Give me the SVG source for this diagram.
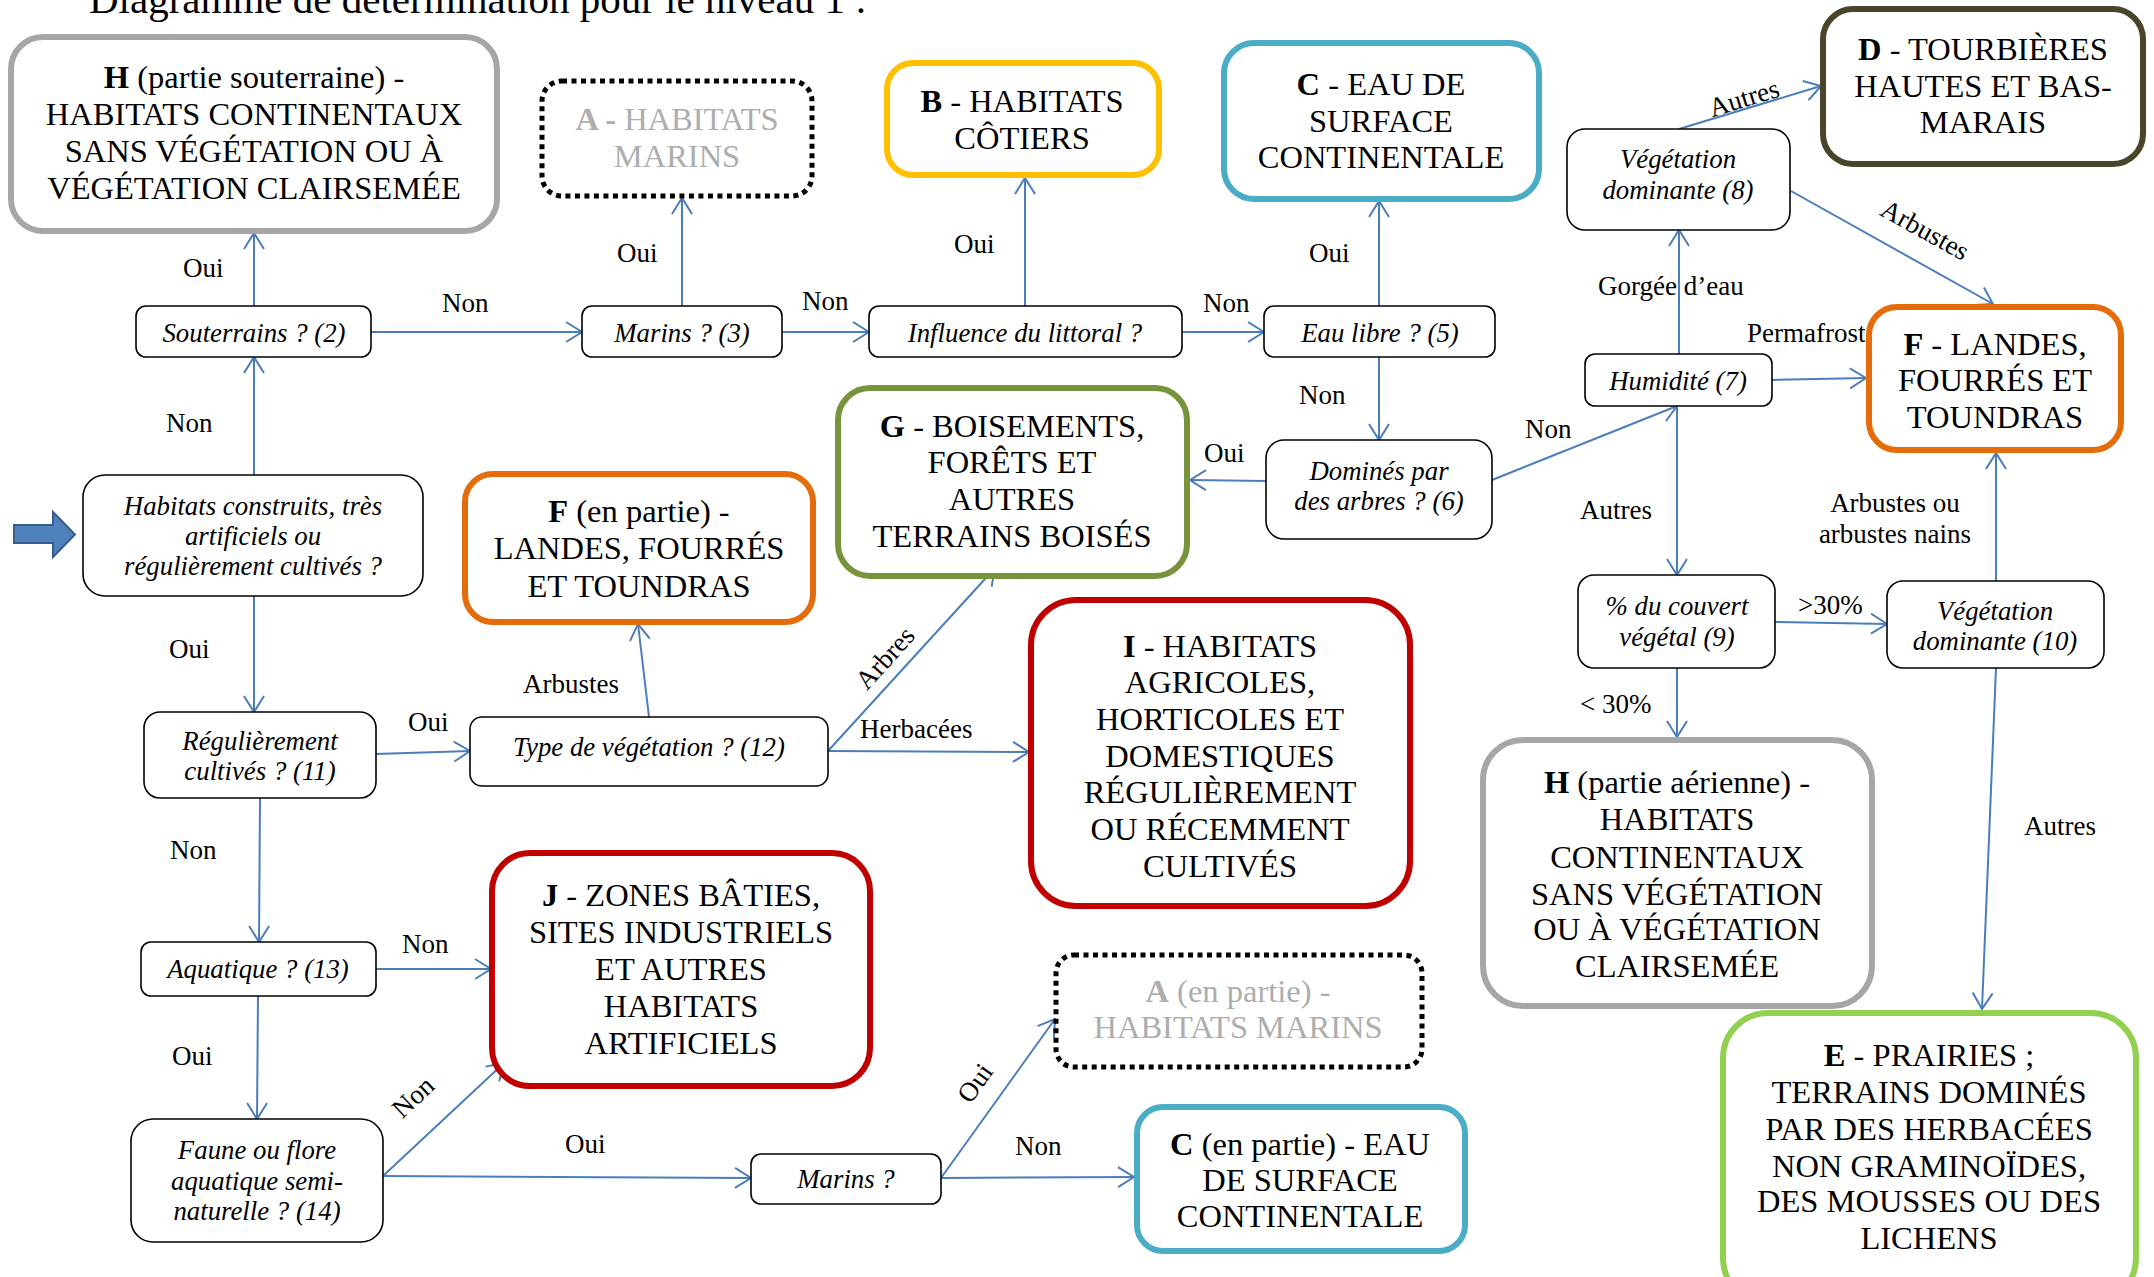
<svg xmlns="http://www.w3.org/2000/svg" width="2154" height="1277" viewBox="0 0 2154 1277">
  <defs>
    <marker id="open-arrow" markerUnits="userSpaceOnUse" markerWidth="20" markerHeight="22" viewBox="0 0 20 22" refX="17" refY="11" orient="auto">
      <path d="M1,1 L17,11 L1,21" fill="none" stroke="#4A7EBB" stroke-width="2"/>
    </marker>
  </defs>
  <style>
    text { font-family: "Liberation Serif", "Times New Roman", serif; fill: #000; }
    .q { fill: #fff; stroke: #000; stroke-width: 1.6; }
    .qt { font-size: 26.8px; font-style: italic; text-anchor: middle; }
    .r { fill: #fff; stroke-width: 6; }
    .rt { font-size: 32.5px; text-anchor: middle; }
    .rt tspan.k { font-weight: bold; }
    .dot { fill: #fff; stroke: #000; stroke-width: 5; stroke-dasharray: 5 4.5; }
    .grey { fill: #ADADAD; }
    .lbl { font-size: 27px; }
    .mid { text-anchor: middle; }
    .edge { fill: none; stroke: #4A7EBB; stroke-width: 2; marker-end: url(#open-arrow); }
  </style>

  <rect width="2154" height="1277" fill="#fff"/>

  <!-- heading -->
  <text x="89" y="13" font-size="41">Diagramme de détermination pour le niveau 1 :</text>

  <!-- start arrow -->
  <polygon points="14,525 53,525 53,512 75,534.5 53,557 53,543 14,543" fill="#4F81BD" stroke="#385D8A" stroke-width="2"/>

  <!-- connectors -->
  <g id="connectors">
    <line class="edge" x1="254" y1="306" x2="254" y2="233"/>
    <line class="edge" x1="371" y1="332" x2="582" y2="332"/>
    <line class="edge" x1="682" y1="306" x2="682" y2="198"/>
    <line class="edge" x1="782" y1="332" x2="869" y2="332"/>
    <line class="edge" x1="1025" y1="306" x2="1025" y2="178"/>
    <line class="edge" x1="1182" y1="332" x2="1264" y2="332"/>
    <line class="edge" x1="1379" y1="306" x2="1379" y2="201"/>
    <line class="edge" x1="1379" y1="357" x2="1379" y2="440"/>
    <line class="edge" x1="1266" y1="481" x2="1190" y2="480"/>
    <line class="edge" x1="1492" y1="480" x2="1677" y2="406"/>
    <line class="edge" x1="1679" y1="354" x2="1679" y2="230"/>
    <line class="edge" x1="1772" y1="380" x2="1866" y2="378"/>
    <line class="edge" x1="1679" y1="129" x2="1821" y2="86"/>
    <line class="edge" x1="1791" y1="191" x2="1993" y2="304"/>
    <line class="edge" x1="1677" y1="406" x2="1677" y2="575"/>
    <line class="edge" x1="1775" y1="622" x2="1887" y2="624"/>
    <line class="edge" x1="1677" y1="668" x2="1677" y2="737"/>
    <line class="edge" x1="1996" y1="581" x2="1996" y2="453"/>
    <line class="edge" x1="1996" y1="668" x2="1982" y2="1009"/>
    <line class="edge" x1="254" y1="475" x2="254" y2="357"/>
    <line class="edge" x1="254" y1="596" x2="254" y2="712"/>
    <line class="edge" x1="376" y1="754" x2="470" y2="751"/>
    <line class="edge" x1="649" y1="717" x2="638" y2="624"/>
    <line class="edge" x1="828" y1="751" x2="995" y2="568"/>
    <line class="edge" x1="828" y1="751" x2="1029" y2="752"/>
    <line class="edge" x1="260" y1="798" x2="259" y2="942"/>
    <line class="edge" x1="376" y1="969" x2="491" y2="969"/>
    <line class="edge" x1="258" y1="996" x2="257" y2="1119"/>
    <line class="edge" x1="383" y1="1176" x2="504" y2="1063"/>
    <line class="edge" x1="383" y1="1176" x2="751" y2="1178"/>
    <line class="edge" x1="941" y1="1178" x2="1055" y2="1019"/>
    <line class="edge" x1="941" y1="1178" x2="1134" y2="1177"/>

    <!-- branch labels -->
    <text class="lbl" x="183" y="277">Oui</text>
    <text class="lbl" x="442" y="312">Non</text>
    <text class="lbl" x="617" y="262">Oui</text>
    <text class="lbl" x="802" y="310">Non</text>
    <text class="lbl" x="954" y="253">Oui</text>
    <text class="lbl" x="1203" y="312">Non</text>
    <text class="lbl" x="1309" y="262">Oui</text>
    <text class="lbl" x="1299" y="404">Non</text>
    <text class="lbl" x="1204" y="462">Oui</text>
    <text class="lbl" x="1525" y="438">Non</text>
    <text class="lbl" x="1598" y="295">Gorgée d’eau</text>
    <text class="lbl" x="1747" y="342">Permafrost</text>
    <text class="lbl mid" x="1744" y="107" transform="rotate(-17 1744 98)">Autres</text>
    <text class="lbl mid" x="1925" y="239" transform="rotate(29 1925 230)">Arbustes</text>
    <text class="lbl" x="1580" y="519">Autres</text>
    <text class="lbl" x="1798" y="614">&gt;30%</text>
    <text class="lbl" x="1580" y="713">&lt; 30%</text>
    <text class="lbl mid" x="1895" y="512">Arbustes ou</text>
    <text class="lbl mid" x="1895" y="543">arbustes nains</text>
    <text class="lbl" x="2024" y="835">Autres</text>
    <text class="lbl" x="166" y="432">Non</text>
    <text class="lbl" x="169" y="658">Oui</text>
    <text class="lbl" x="408" y="731">Oui</text>
    <text class="lbl" x="523" y="693">Arbustes</text>
    <text class="lbl mid" x="885" y="667" transform="rotate(-48 885 658)">Arbres</text>
    <text class="lbl" x="860" y="738">Herbacées</text>
    <text class="lbl" x="170" y="859">Non</text>
    <text class="lbl" x="402" y="953">Non</text>
    <text class="lbl" x="172" y="1065">Oui</text>
    <text class="lbl mid" x="413" y="1106" transform="rotate(-43 413 1097)">Non</text>
    <text class="lbl" x="565" y="1153">Oui</text>
    <text class="lbl mid" x="975" y="1092" transform="rotate(-54.5 975 1083)">Oui</text>
    <text class="lbl" x="1015" y="1155">Non</text>
  </g>

  <!-- question nodes -->
  <g id="q-construits">
    <rect class="q" x="83" y="475" width="340" height="121" rx="22"/>
    <text class="qt" x="253" y="515">Habitats construits, très</text>
    <text class="qt" x="253" y="545">artificiels ou</text>
    <text class="qt" x="253" y="575">régulièrement cultivés ?</text>
  </g>
  <g id="q-souterrains">
    <rect class="q" x="136" y="306" width="235" height="51" rx="10"/>
    <text class="qt" x="254" y="342">Souterrains ? (2)</text>
  </g>
  <g id="q-marins3">
    <rect class="q" x="582" y="306" width="200" height="51" rx="10"/>
    <text class="qt" x="682" y="342">Marins ? (3)</text>
  </g>
  <g id="q-littoral">
    <rect class="q" x="869" y="306" width="313" height="51" rx="10"/>
    <text class="qt" x="1025" y="342">Influence du littoral ?</text>
  </g>
  <g id="q-eau-libre">
    <rect class="q" x="1264" y="306" width="231" height="51" rx="10"/>
    <text class="qt" x="1380" y="342">Eau libre ? (5)</text>
  </g>
  <g id="q-arbres">
    <rect class="q" x="1266" y="440" width="226" height="99" rx="18"/>
    <text class="qt" x="1379" y="480">Dominés par</text>
    <text class="qt" x="1379" y="510">des arbres ? (6)</text>
  </g>
  <g id="q-humidite">
    <rect class="q" x="1585" y="354" width="187" height="52" rx="10"/>
    <text class="qt" x="1678" y="390">Humidité (7)</text>
  </g>
  <g id="q-vegetation8">
    <rect class="q" x="1567" y="129" width="223" height="101" rx="18"/>
    <text class="qt" x="1678" y="168">Végétation</text>
    <text class="qt" x="1678" y="199">dominante (8)</text>
  </g>
  <g id="q-couvert">
    <rect class="q" x="1578" y="575" width="197" height="93" rx="16"/>
    <text class="qt" x="1677" y="615" font-size="27.5">% du couvert</text>
    <text class="qt" x="1677" y="646" font-size="27.5">végétal (9)</text>
  </g>
  <g id="q-vegetation10">
    <rect class="q" x="1887" y="581" width="217" height="87" rx="16"/>
    <text class="qt" x="1995" y="620">Végétation</text>
    <text class="qt" x="1995" y="650">dominante (10)</text>
  </g>
  <g id="q-cultives">
    <rect class="q" x="144" y="712" width="232" height="86" rx="16"/>
    <text class="qt" x="260" y="750">Régulièrement</text>
    <text class="qt" x="260" y="780">cultivés ? (11)</text>
  </g>
  <g id="q-type">
    <rect class="q" x="470" y="717" width="358" height="69" rx="12"/>
    <text class="qt" x="649" y="756">Type de végétation ? (12)</text>
  </g>
  <g id="q-aquatique">
    <rect class="q" x="141" y="942" width="235" height="54" rx="10"/>
    <text class="qt" x="258" y="978">Aquatique ? (13)</text>
  </g>
  <g id="q-faune">
    <rect class="q" x="131" y="1119" width="252" height="123" rx="22"/>
    <text class="qt" x="257" y="1159">Faune ou flore</text>
    <text class="qt" x="257" y="1190">aquatique semi-</text>
    <text class="qt" x="257" y="1220">naturelle ? (14)</text>
  </g>
  <g id="q-marins">
    <rect class="q" x="751" y="1154" width="190" height="50" rx="10"/>
    <text class="qt" x="846" y="1188">Marins ?</text>
  </g>

  <!-- habitat classes -->
  <g id="r-H-souterraine">
    <rect class="r" x="11" y="37" width="486" height="194" rx="32" stroke="#A6A6A6"/>
    <text class="rt" x="254" y="88"><tspan class="k">H</tspan> (partie souterraine) -</text>
    <text class="rt" x="254" y="125">HABITATS CONTINENTAUX</text>
    <text class="rt" x="254" y="162">SANS VÉGÉTATION OU À</text>
    <text class="rt" x="254" y="199">VÉGÉTATION CLAIRSEMÉE</text>
  </g>
  <g id="r-A">
    <rect class="dot" x="542" y="81" width="270" height="115" rx="20"/>
    <text class="rt grey" x="677" y="130"><tspan class="k">A -</tspan> HABITATS</text>
    <text class="rt grey" x="677" y="167">MARINS</text>
  </g>
  <g id="r-B">
    <rect class="r" x="887" y="63" width="272" height="112" rx="26" stroke="#FFC000"/>
    <text class="rt" x="1022" y="112"><tspan class="k">B</tspan> - HABITATS</text>
    <text class="rt" x="1022" y="149">CÔTIERS</text>
  </g>
  <g id="r-C">
    <rect class="r" x="1224" y="43" width="315" height="156" rx="30" stroke="#4BACC6"/>
    <text class="rt" x="1381" y="95"><tspan class="k">C</tspan> - EAU DE</text>
    <text class="rt" x="1381" y="132">SURFACE</text>
    <text class="rt" x="1381" y="168">CONTINENTALE</text>
  </g>
  <g id="r-D">
    <rect class="r" x="1823" y="9" width="320" height="155" rx="30" stroke="#4A452A"/>
    <text class="rt" x="1983" y="60"><tspan class="k">D</tspan> - TOURBIÈRES</text>
    <text class="rt" x="1983" y="97">HAUTES ET BAS-</text>
    <text class="rt" x="1983" y="133">MARAIS</text>
  </g>
  <g id="r-F">
    <rect class="r" x="1869" y="307" width="252" height="143" rx="28" stroke="#E46C0A"/>
    <text class="rt" x="1995" y="355"><tspan class="k">F</tspan> - LANDES,</text>
    <text class="rt" x="1995" y="391">FOURRÉS ET</text>
    <text class="rt" x="1995" y="428">TOUNDRAS</text>
  </g>
  <g id="r-G">
    <rect class="r" x="838" y="388" width="349" height="188" rx="32" stroke="#77933C"/>
    <text class="rt" x="1012" y="437"><tspan class="k">G</tspan> - BOISEMENTS,</text>
    <text class="rt" x="1012" y="473">FORÊTS ET</text>
    <text class="rt" x="1012" y="510">AUTRES</text>
    <text class="rt" x="1012" y="547">TERRAINS BOISÉS</text>
  </g>
  <g id="r-F-partie">
    <rect class="r" x="465" y="474" width="348" height="148" rx="28" stroke="#E46C0A"/>
    <text class="rt" x="639" y="522"><tspan class="k">F</tspan> (en partie) -</text>
    <text class="rt" x="639" y="559">LANDES, FOURRÉS</text>
    <text class="rt" x="639" y="597">ET TOUNDRAS</text>
  </g>
  <g id="r-I">
    <rect class="r" x="1031" y="600" width="379" height="306" rx="45" stroke="#C00000" stroke-width="7"/>
    <text class="rt" x="1220" y="657"><tspan class="k">I</tspan> - HABITATS</text>
    <text class="rt" x="1220" y="693">AGRICOLES,</text>
    <text class="rt" x="1220" y="730">HORTICOLES ET</text>
    <text class="rt" x="1220" y="767">DOMESTIQUES</text>
    <text class="rt" x="1220" y="803">RÉGULIÈREMENT</text>
    <text class="rt" x="1220" y="840">OU RÉCEMMENT</text>
    <text class="rt" x="1220" y="877">CULTIVÉS</text>
  </g>
  <g id="r-J">
    <rect class="r" x="492" y="853" width="378" height="233" rx="38" stroke="#C00000" stroke-width="7"/>
    <text class="rt" x="681" y="906"><tspan class="k">J</tspan> - ZONES BÂTIES,</text>
    <text class="rt" x="681" y="943">SITES INDUSTRIELS</text>
    <text class="rt" x="681" y="980">ET AUTRES</text>
    <text class="rt" x="681" y="1017">HABITATS</text>
    <text class="rt" x="681" y="1054">ARTIFICIELS</text>
  </g>
  <g id="r-A-partie">
    <rect class="dot" x="1056" y="955" width="366" height="112" rx="18"/>
    <text class="rt grey" x="1238" y="1002"><tspan class="k">A</tspan> (en partie) -</text>
    <text class="rt grey" x="1238" y="1038">HABITATS MARINS</text>
  </g>
  <g id="r-C-partie">
    <rect class="r" x="1137" y="1107" width="328" height="144" rx="26" stroke="#4BACC6"/>
    <text class="rt" x="1300" y="1155"><tspan class="k">C</tspan> (en partie) - EAU</text>
    <text class="rt" x="1300" y="1191">DE SURFACE</text>
    <text class="rt" x="1300" y="1227">CONTINENTALE</text>
  </g>
  <g id="r-H-aerienne">
    <rect class="r" x="1483" y="740" width="389" height="266" rx="40" stroke="#A6A6A6"/>
    <text class="rt" x="1677" y="793"><tspan class="k">H</tspan> (partie aérienne) -</text>
    <text class="rt" x="1677" y="830">HABITATS</text>
    <text class="rt" x="1677" y="868">CONTINENTAUX</text>
    <text class="rt" x="1677" y="905">SANS VÉGÉTATION</text>
    <text class="rt" x="1677" y="940">OU À VÉGÉTATION</text>
    <text class="rt" x="1677" y="977">CLAIRSEMÉE</text>
  </g>
  <g id="r-E">
    <rect class="r" x="1723" y="1013" width="413" height="290" rx="45" stroke="#92D050"/>
    <text class="rt" x="1929" y="1066"><tspan class="k">E</tspan> - PRAIRIES ;</text>
    <text class="rt" x="1929" y="1103">TERRAINS DOMINÉS</text>
    <text class="rt" x="1929" y="1140">PAR DES HERBACÉES</text>
    <text class="rt" x="1929" y="1177">NON GRAMINOÏDES,</text>
    <text class="rt" x="1929" y="1212">DES MOUSSES OU DES</text>
    <text class="rt" x="1929" y="1249">LICHENS</text>
  </g>
</svg>
